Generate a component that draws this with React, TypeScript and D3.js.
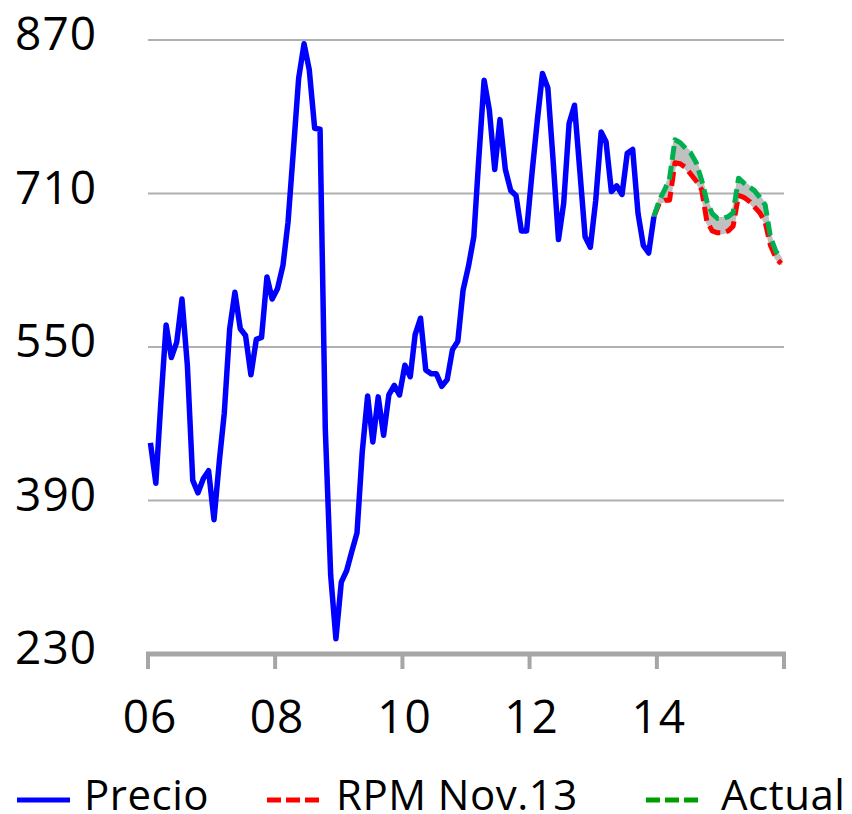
import React from "react";
import * as d3 from "d3";

const yTicks = [230, 390, 550, 710, 870];
const xTickYears = [2006, 2008, 2010, 2012, 2014, 2016];
const xTickLabels = ["06", "08", "10", "12", "14", ""];

// Monthly, Jan 2006 .. Dec 2013
const precio = [
  450, 408, 490, 573, 539, 555, 600, 531, 411, 398, 413, 421,
  370, 432, 481, 569, 607, 569, 562, 521, 558, 560, 623, 600,
  611, 635, 680, 755, 830, 866, 839, 778, 777, 465, 312, 246,
  305, 317, 336, 356, 440, 499, 451, 498, 458, 500, 510, 500,
  531, 519, 563, 580, 526, 522, 522, 509, 516, 547, 556, 609,
  634, 665, 745, 828, 797, 735, 787, 735, 713, 708, 671, 671,
  731, 787, 835, 820, 745, 662, 700, 783, 802, 735, 665, 654,
  703, 774, 764, 712, 718, 709, 752, 756, 689, 656, 648, 686,
];

// Monthly, Dec 2013 .. Dec 2015
const rpmNov13 = [
  686, 700, 703, 703, 742, 741, 737, 730, 723, 714, 681, 671, 669,
  669, 671, 676, 708, 706, 702, 696, 690, 680, 656, 643, 637,
];
const actual = [
  686, 703, 714, 726, 766, 763, 757, 752, 742, 724, 702, 689, 684,
  684, 686, 690, 726, 721, 717, 713, 706, 698, 665, 650, 642,
];

const legendItems = [
  { label: "Precio", color: "#0000ff", dashed: false },
  { label: "RPM Nov.13", color: "#ff0000", dashed: true },
  { label: "Actual", color: "#009f00", dashed: true },
];

const W = 852;
const H = 814;
const FONT = "'Open Sans', 'Noto Sans', sans-serif";

export default function App() {
  const x = d3
    .scaleTime()
    .domain([new Date(2006, 0, 1), new Date(2016, 0, 1)])
    .range([148, 784]);
  const y = d3.scaleLinear().domain([230, 870]).range([654, 40]);

  const monthDate = (start: [number, number], i: number) =>
    new Date(start[0], start[1] + i, 15);

  const precioPts = precio.map((v, i) => ({ d: monthDate([2006, 0], i), v }));
  const fc = rpmNov13.map((v, i) => ({
    d: monthDate([2013, 11], i),
    r: v,
    a: actual[i],
  }));

  const line = d3
    .line<{ d: Date; v: number }>()
    .x((p) => x(p.d))
    .y((p) => y(p.v));

  const band = d3
    .area<{ d: Date; r: number; a: number }>()
    .x((p) => x(p.d))
    .y0((p) => y(Math.min(p.r, p.a)))
    .y1((p) => y(Math.max(p.r, p.a)));

  const redPath = line(fc.map((p) => ({ d: p.d, v: p.r }))) || "";
  const greenPath = line(fc.map((p) => ({ d: p.d, v: p.a }))) || "";
  const bandPath = band(fc) || "";

  const legendX = [
    { line: [17, 70], text: 84 },
    { line: [267, 319], text: 336 },
    { line: [646, 699], text: 721 },
  ];

  return (
    <svg
      width={W}
      height={H}
      style={{ position: "absolute", left: 0, top: 0, background: "#fff" }}
    >
      {yTicks
        .filter((t) => t !== 230)
        .map((t) => (
          <line
            key={"g" + t}
            x1={148}
            x2={784}
            y1={y(t)}
            y2={y(t)}
            stroke="#b0b0b0"
            strokeWidth={2}
          />
        ))}
      {yTicks.map((t) => (
        <text
          key={"yl" + t}
          x={97}
          y={y(t) + 10}
          textAnchor="end"
          fontFamily={FONT}
          fontSize={46}
          letterSpacing={1}
          fill="#000"
        >
          {t}
        </text>
      ))}
      <line x1={146} x2={786} y1={654} y2={654} stroke="#a6a6a6" strokeWidth={5} />
      {xTickYears.map((yr, i) => {
        const xx = x(new Date(yr, 0, 1));
        return (
          <g key={"xt" + yr}>
            <line x1={xx} x2={xx} y1={654} y2={669} stroke="#a6a6a6" strokeWidth={4} />
            {xTickLabels[i] && (
              <text
                x={xx + 2}
                y={733}
                textAnchor="middle"
                fontFamily={FONT}
                fontSize={46}
                letterSpacing={1}
                fill="#000"
              >
                {xTickLabels[i]}
              </text>
            )}
          </g>
        );
      })}
      <path d={bandPath} fill="#c0c0c0" stroke="#c0c0c0" strokeWidth={3} strokeLinejoin="round" />
      <path d={redPath} fill="none" stroke="#ff0000" strokeWidth={5} strokeDasharray="14 6" strokeLinejoin="round" />
      <path d={greenPath} fill="none" stroke="#00b050" strokeWidth={5} strokeDasharray="14 6" strokeLinejoin="round" />
      <path
        d={line(precioPts) || ""}
        fill="none"
        stroke="#0000ff"
        strokeWidth={5.5}
        strokeLinejoin="round"
      />
      {legendItems.map((it, i) => (
        <g key={"lg" + i}>
          <line
            x1={legendX[i].line[0]}
            x2={legendX[i].line[1]}
            y1={800}
            y2={800}
            stroke={it.color}
            strokeWidth={5}
            strokeDasharray={it.dashed ? "14 5" : undefined}
          />
          <text
            x={legendX[i].text}
            y={810}
            fontFamily={FONT}
            fontSize={42}
            letterSpacing={0.5}
            fill="#000"
          >
            {it.label}
          </text>
        </g>
      ))}
    </svg>
  );
}
